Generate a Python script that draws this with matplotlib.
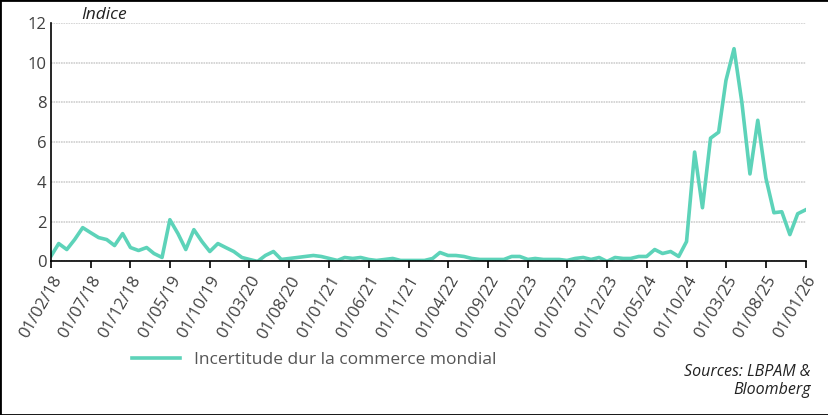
import numpy as np
import pandas as pd
import matplotlib
matplotlib.use("Agg")
import matplotlib.pyplot as plt

plt.rcParams['font.family'] = ['Open Sans', 'DejaVu Sans']

# monthly values, Feb 2018 -> Jan 2026
values = [0.3, 0.9, 0.6, 1.1, 1.7, 1.45, 1.2, 1.1, 0.8, 1.4, 0.7,
          0.55, 0.7, 0.4, 0.2, 2.1, 1.4, 0.6, 1.6, 1.0, 0.5, 0.9, 0.7,
          0.5, 0.2, 0.1, 0.0, 0.3, 0.5, 0.1, 0.15, 0.2, 0.25, 0.3, 0.25,
          0.15, 0.05, 0.2, 0.15, 0.2, 0.1, 0.05, 0.1, 0.15, 0.05, 0.05,
          0.05, 0.05, 0.15, 0.45, 0.3, 0.3, 0.25, 0.15, 0.1, 0.1, 0.1, 0.1,
          0.25, 0.25, 0.1, 0.15, 0.1, 0.1, 0.1, 0.05, 0.15, 0.2, 0.1, 0.2,
          0.0, 0.2, 0.15, 0.15, 0.25, 0.25, 0.6, 0.4, 0.5, 0.25,
          1.0, 5.5, 2.7, 6.2, 6.5, 9.1, 10.7, 8.0, 4.4, 7.1, 4.2, 2.45,
          2.5, 1.35, 2.4, 2.6]
dates = pd.date_range("2018-02-01", periods=len(values), freq="MS")
tick_dates = dates[::5]
tick_labels = [d.strftime("%d/%m/%y") for d in tick_dates]

fig = plt.figure(figsize=(8.29, 4.15), dpi=100)
ax = fig.add_axes([0.062, 0.37, 0.91, 0.575])
ax.plot(dates, values, color="#5dd3b9", lw=2.6, label="Incertitude dur la commerce mondial")
ax.set_xlim(dates[0], dates[-1])
ax.set_ylim(0, 12)
ax.set_yticks(range(0, 13, 2))
ax.set_xticks(tick_dates)
ax.set_xticklabels(tick_labels, rotation=60, ha="right", rotation_mode="anchor")
ax.tick_params(axis="both", labelsize=12, colors="#404040")
ax.tick_params(axis="x", length=5, width=1.2, color="black")
ax.tick_params(axis="y", length=0)
ax.grid(axis="y", color="#d0d0d0", lw=1.2, ls=(0, (1, 0.5)))
for s in ["top", "right"]:
    ax.spines[s].set_visible(False)
ax.spines["left"].set_linewidth(1.2)
ax.spines["bottom"].set_linewidth(1.2)
ax.text(0.04, 1.0, "Indice", transform=ax.transAxes, fontsize=12.5, style="italic", va="bottom", color="#222222")

fig.legend(loc="lower left", bbox_to_anchor=(0.14, 0.075), frameon=False, fontsize=12.5,
           handlelength=2.8, labelcolor="#555555")
fig.text(0.978, 0.04, "Sources: LBPAM &\nBloomberg", ha="right", va="bottom", fontsize=11.5,
         style="italic", color="#222222", linespacing=1.2)
fig.patches.append(plt.Rectangle((0, 0), 1, 1, transform=fig.transFigure, fill=False,
                                 ec="black", lw=2))
fig.savefig("out.png", dpi=100)
